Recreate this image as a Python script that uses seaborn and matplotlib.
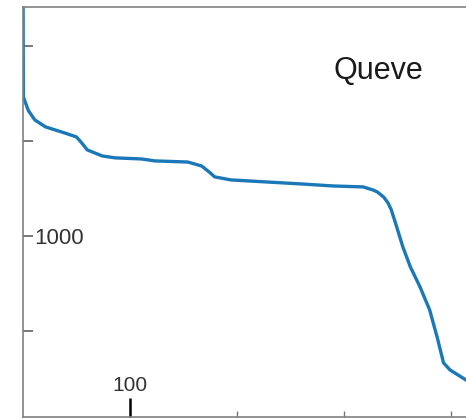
import matplotlib
matplotlib.use("Agg")
import matplotlib.pyplot as plt
import numpy as np
import pandas as pd
import seaborn as sns
from matplotlib.ticker import FixedLocator, FuncFormatter

# duration curve
days = [0, 0.3, 5, 11, 21, 39, 50, 55, 60, 74, 86, 111, 123, 154, 167, 175, 179,
        194, 228, 259, 290, 318, 327, 331, 337, 341, 344, 348, 355, 362, 371, 380,
        387, 393, 399, 414, 420]
flow = [2400, 1732, 1660, 1611, 1574, 1542, 1521, 1489, 1453, 1421, 1411, 1405,
        1395, 1389, 1368, 1332, 1311, 1295, 1284, 1274, 1263, 1258, 1242, 1232,
        1205, 1175, 1140, 1070, 942, 837, 732, 611, 468, 332, 295, 242, 232]
ytick_vals = [500, 1000, 1500, 2000]
xtick_major = [100]
xtick_minor = [200, 300, 400]
title = "Queve"

df = pd.DataFrame({"day": days, "flow": flow})

sns.set_style("white")
plt.rcParams['font.family'] = ['Liberation Sans', 'DejaVu Sans']

fig = plt.figure(figsize=(4.66, 4.19), dpi=100)
ax = fig.add_axes([23 / 466, 2 / 419, 1 - 23 / 466, 410 / 419])

sns.lineplot(data=df, x="day", y="flow", ax=ax, color="#1a78b8", linewidth=2.4,
             sort=False, estimator=None)

ax.set_xlim(0, 414)
ax.set_ylim(47, 2205)
ax.set_xlabel("")
ax.set_ylabel("")

for side in ["left", "top", "bottom"]:
    ax.spines[side].set_color("#808080")
    ax.spines[side].set_linewidth(1.2)
ax.spines["right"].set_visible(False)

# y ticks inside, only 1000 labelled
ax.yaxis.set_major_locator(FixedLocator(ytick_vals))
ax.yaxis.set_major_formatter(FuncFormatter(lambda v, p: "1000" if v == 1000 else ""))
ax.tick_params(axis="y", which="major", direction="in", length=7, width=1.1,
               color="#555555", pad=-8, labelsize=16, labelcolor="#333333", left=True)
for t in ax.get_yticklabels():
    t.set_horizontalalignment("left")

# x ticks inside, label above the long tick
ax.xaxis.set_major_locator(FixedLocator(xtick_major))
ax.xaxis.set_minor_locator(FixedLocator(xtick_minor))
ax.tick_params(axis="x", which="major", direction="in", length=14, width=1.8,
               color="black", pad=-16, labelsize=15, labelcolor="#333333", bottom=True)
ax.tick_params(axis="x", which="minor", direction="in", length=4.5, width=1.0,
               color="#777777", bottom=True)
for t in ax.get_xticklabels():
    t.set_verticalalignment("bottom")

ax.text((378 - 23) / (466 - 23), 1 - 64 / 410, title,
        transform=ax.transAxes, ha="center", va="center", fontsize=22, color="#1a1a1a")

fig.savefig("out.png", dpi=100)
